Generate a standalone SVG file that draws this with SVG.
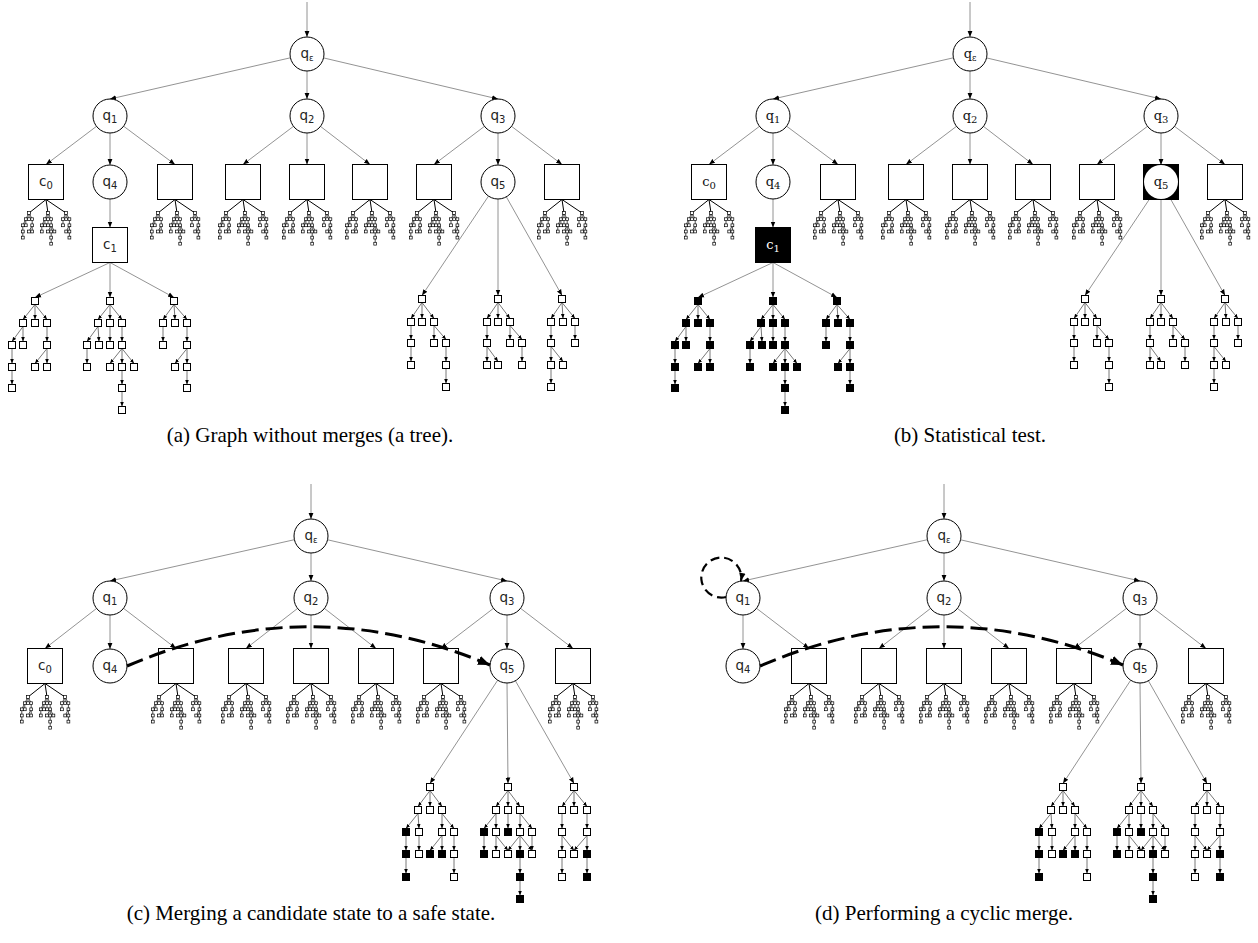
<svg xmlns="http://www.w3.org/2000/svg" width="1258" height="943" viewBox="0 0 1258 943">
<style>
.n{fill:#fff;stroke:#000;stroke-width:1}
.nb{fill:#000;stroke:#000;stroke-width:1}
.e{stroke:#777;stroke-width:0.8;fill:none;marker-end:url(#ah)}
.s{stroke:#555;stroke-width:0.8;fill:none;marker-end:url(#ahs)}
.sq{stroke:#000;stroke-width:1}
.w{fill:#fff}.b{fill:#000}
.lb{font-family:"DejaVu Sans",sans-serif;font-size:13.5px;fill:#222;text-anchor:middle}
.ls{font-family:"DejaVu Serif",serif;font-size:13px;fill:#111;text-anchor:middle}
.sd{font-size:10px}.se{font-size:8.5px}
.cap{font-family:"Liberation Serif",serif;font-size:21px;fill:#000;text-anchor:middle}
.mg{stroke:#000;stroke-width:3;fill:none;stroke-dasharray:17 7;marker-end:url(#ahb)}
.lp{stroke:#000;stroke-width:2.2;fill:none;stroke-dasharray:9 5;marker-end:url(#ahl)}
</style>
<defs>
<marker id="ah" viewBox="0 0 10 10" refX="10" refY="5" markerWidth="6" markerHeight="6" markerUnits="userSpaceOnUse" orient="auto"><path d="M0,1L10,5L0,9z" fill="#000"/></marker>
<marker id="ahs" viewBox="0 0 10 10" refX="10" refY="5" markerWidth="4.5" markerHeight="4.5" markerUnits="userSpaceOnUse" orient="auto"><path d="M0,1L10,5L0,9z" fill="#000"/></marker>
<marker id="ahb" viewBox="0 0 10 10" refX="10" refY="5" markerWidth="12" markerHeight="12" markerUnits="userSpaceOnUse" orient="auto"><path d="M0,1L10,5L0,9z" fill="#000"/></marker>
<marker id="ahl" viewBox="0 0 10 10" refX="10" refY="5" markerWidth="8" markerHeight="8" markerUnits="userSpaceOnUse" orient="auto"><path d="M0,1L10,5L0,9z" fill="#000"/></marker>
<g id="mini">
<path d="M0,0.5L-17,14M0,0.5L2,14M0,0.5L20,14" stroke="#000" stroke-width="1" fill="none"/>
<path d="M-17,14L-20.2,20.2M-17,14L-17,20.2M-17,14L-13.8,20.2M-20.2,20.2L-23.2,26.3M-20.2,20.2L-20.2,26.3M-13.8,20.2L-13.8,26.3M-23.2,26.3L-23.2,38.6M-13.8,26.3L-17,32.5M-13.8,26.3L-13.8,32.5M2,14L-1.2,20.2M2,14L2,20.2M2,14L5.2,20.2M-1.2,20.2L-4.2,26.3M-1.2,20.2L-1,26.3M2,20.2L2,26.3M5.2,20.2L5.2,44.7M-4.2,26.3L-4.2,32.5M5.2,26.3L2,32.5M5.2,26.3L8.4,32.5M20,14L17,20.2M20,14L20.2,20.2M20,14L23.4,20.2M17,20.2L17,26.3M23.4,20.2L23.4,38.6M23.4,26.3L20.2,32.5" stroke="#000" stroke-width="0.7" fill="none"/>
<g fill="#fff" stroke="#000" stroke-width="0.7">
<rect x="-18.4" y="12.6" width="2.8" height="2.8"/><rect x="-21.6" y="18.8" width="2.8" height="2.8"/><rect x="-18.4" y="18.8" width="2.8" height="2.8"/><rect x="-15.2" y="18.8" width="2.8" height="2.8"/><rect x="-24.6" y="24.9" width="2.8" height="2.8"/><rect x="-21.6" y="24.9" width="2.8" height="2.8"/><rect x="-15.2" y="24.9" width="2.8" height="2.8"/><rect x="-24.6" y="31.1" width="2.8" height="2.8"/><rect x="-18.4" y="31.1" width="2.8" height="2.8"/><rect x="-15.2" y="31.1" width="2.8" height="2.8"/><rect x="-24.6" y="37.2" width="2.8" height="2.8"/>
<rect x="0.6" y="12.6" width="2.8" height="2.8"/><rect x="-2.6" y="18.8" width="2.8" height="2.8"/><rect x="0.6" y="18.8" width="2.8" height="2.8"/><rect x="3.8" y="18.8" width="2.8" height="2.8"/><rect x="-5.6" y="24.9" width="2.8" height="2.8"/><rect x="-2.4" y="24.9" width="2.8" height="2.8"/><rect x="0.6" y="24.9" width="2.8" height="2.8"/><rect x="3.8" y="24.9" width="2.8" height="2.8"/><rect x="-5.6" y="31.1" width="2.8" height="2.8"/><rect x="0.6" y="31.1" width="2.8" height="2.8"/><rect x="3.8" y="31.1" width="2.8" height="2.8"/><rect x="7" y="31.1" width="2.8" height="2.8"/><rect x="3.8" y="37.2" width="2.8" height="2.8"/><rect x="3.8" y="43.3" width="2.8" height="2.8"/>
<rect x="18.6" y="12.6" width="2.8" height="2.8"/><rect x="15.6" y="18.8" width="2.8" height="2.8"/><rect x="18.8" y="18.8" width="2.8" height="2.8"/><rect x="22" y="18.8" width="2.8" height="2.8"/><rect x="15.6" y="24.9" width="2.8" height="2.8"/><rect x="22" y="24.9" width="2.8" height="2.8"/><rect x="18.8" y="31.1" width="2.8" height="2.8"/><rect x="22" y="31.1" width="2.8" height="2.8"/><rect x="22" y="37.2" width="2.8" height="2.8"/>
</g>
</g>
<g id="c1tree">
<line class="e" x1="110" y1="262.5" x2="35" y2="297.5"/><line class="e" x1="110" y1="262.5" x2="110" y2="297.5"/><line class="e" x1="110" y1="262.5" x2="174" y2="297.5"/>
<line class="s" x1="35" y1="304.5" x2="23" y2="319.5"/><line class="s" x1="35" y1="304.5" x2="35" y2="319.5"/><line class="s" x1="35" y1="304.5" x2="47" y2="319.5"/>
<line class="s" x1="23" y1="326.5" x2="12" y2="341.5"/><line class="s" x1="23" y1="326.5" x2="23" y2="341.5"/><line class="s" x1="47" y1="326.5" x2="47" y2="341.5"/>
<line class="s" x1="12" y1="348.5" x2="12" y2="363.5"/><line class="s" x1="47" y1="348.5" x2="35" y2="363.5"/><line class="s" x1="47" y1="348.5" x2="47" y2="363.5"/><line class="s" x1="12" y1="370.5" x2="12" y2="384.5"/>
<line class="s" x1="110" y1="304.5" x2="98" y2="319.5"/><line class="s" x1="110" y1="304.5" x2="110" y2="319.5"/><line class="s" x1="110" y1="304.5" x2="122" y2="319.5"/>
<line class="s" x1="98" y1="326.5" x2="87" y2="341.5"/><line class="s" x1="98" y1="326.5" x2="99" y2="341.5"/><line class="s" x1="110" y1="326.5" x2="110" y2="341.5"/><line class="s" x1="122" y1="326.5" x2="122" y2="341.5"/>
<line class="s" x1="87" y1="348.5" x2="87" y2="363.5"/><line class="s" x1="122" y1="348.5" x2="110" y2="363.5"/><line class="s" x1="122" y1="348.5" x2="122" y2="363.5"/><line class="s" x1="122" y1="348.5" x2="134" y2="363.5"/>
<line class="s" x1="122" y1="370.5" x2="122" y2="384.5"/><line class="s" x1="122" y1="391.5" x2="122" y2="406.5"/>
<line class="s" x1="174" y1="304.5" x2="163" y2="319.5"/><line class="s" x1="174" y1="304.5" x2="175" y2="319.5"/><line class="s" x1="174" y1="304.5" x2="187" y2="319.5"/>
<line class="s" x1="163" y1="326.5" x2="163" y2="341.5"/><line class="s" x1="187" y1="326.5" x2="187" y2="341.5"/><line class="s" x1="187" y1="348.5" x2="175" y2="363.5"/><line class="s" x1="187" y1="348.5" x2="187" y2="363.5"/><line class="s" x1="187" y1="370.5" x2="187" y2="384.5"/>
<g class="sq">
<rect x="31.5" y="297.5" width="7" height="7"/><rect x="19.5" y="319.5" width="7" height="7"/><rect x="31.5" y="319.5" width="7" height="7"/><rect x="43.5" y="319.5" width="7" height="7"/><rect x="8.5" y="341.5" width="7" height="7"/><rect x="19.5" y="341.5" width="7" height="7"/><rect x="43.5" y="341.5" width="7" height="7"/><rect x="8.5" y="363.5" width="7" height="7"/><rect x="31.5" y="363.5" width="7" height="7"/><rect x="43.5" y="363.5" width="7" height="7"/><rect x="8.5" y="384.5" width="7" height="7"/>
<rect x="106.5" y="297.5" width="7" height="7"/><rect x="94.5" y="319.5" width="7" height="7"/><rect x="106.5" y="319.5" width="7" height="7"/><rect x="118.5" y="319.5" width="7" height="7"/><rect x="83.5" y="341.5" width="7" height="7"/><rect x="95.5" y="341.5" width="7" height="7"/><rect x="106.5" y="341.5" width="7" height="7"/><rect x="118.5" y="341.5" width="7" height="7"/><rect x="83.5" y="363.5" width="7" height="7"/><rect x="106.5" y="363.5" width="7" height="7"/><rect x="118.5" y="363.5" width="7" height="7"/><rect x="130.5" y="363.5" width="7" height="7"/><rect x="118.5" y="384.5" width="7" height="7"/><rect x="118.5" y="406.5" width="7" height="7"/>
<rect x="170.5" y="297.5" width="7" height="7"/><rect x="159.5" y="319.5" width="7" height="7"/><rect x="171.5" y="319.5" width="7" height="7"/><rect x="183.5" y="319.5" width="7" height="7"/><rect x="159.5" y="341.5" width="7" height="7"/><rect x="183.5" y="341.5" width="7" height="7"/><rect x="171.5" y="363.5" width="7" height="7"/><rect x="183.5" y="363.5" width="7" height="7"/><rect x="183.5" y="384.5" width="7" height="7"/>
</g>
</g>
<g id="q5tree">
<line class="e" x1="488.5" y1="196.1" x2="422" y2="295.5"/><line class="e" x1="498" y1="199" x2="498" y2="295.5"/><line class="e" x1="506.3" y1="196.8" x2="562" y2="295.5"/>
<line class="s" x1="422" y1="302.5" x2="411" y2="318.5"/><line class="s" x1="422" y1="302.5" x2="422" y2="318.5"/><line class="s" x1="422" y1="302.5" x2="434" y2="318.5"/>
<line class="s" x1="411" y1="325.5" x2="411" y2="339.5"/><line class="s" x1="434" y1="325.5" x2="434" y2="339.5"/><line class="s" x1="434" y1="325.5" x2="446" y2="339.5"/>
<line class="s" x1="411" y1="346.5" x2="411" y2="361.5"/><line class="s" x1="446" y1="346.5" x2="446" y2="361.5"/><line class="s" x1="446" y1="368.5" x2="446" y2="383.5"/>
<line class="s" x1="498" y1="302.5" x2="487" y2="318.5"/><line class="s" x1="498" y1="302.5" x2="498" y2="318.5"/><line class="s" x1="498" y1="302.5" x2="510" y2="318.5"/>
<line class="s" x1="487" y1="325.5" x2="487" y2="339.5"/><line class="s" x1="510" y1="325.5" x2="510" y2="339.5"/><line class="s" x1="510" y1="325.5" x2="522" y2="339.5"/>
<line class="s" x1="487" y1="346.5" x2="487" y2="361.5"/><line class="s" x1="487" y1="346.5" x2="498" y2="361.5"/><line class="s" x1="522" y1="346.5" x2="522" y2="361.5"/>
<line class="s" x1="562" y1="302.5" x2="551" y2="318.5"/><line class="s" x1="562" y1="302.5" x2="563" y2="318.5"/><line class="s" x1="562" y1="302.5" x2="575" y2="318.5"/>
<line class="s" x1="551" y1="325.5" x2="551" y2="339.5"/><line class="s" x1="575" y1="325.5" x2="575" y2="339.5"/><line class="s" x1="551" y1="346.5" x2="551" y2="361.5"/><line class="s" x1="551" y1="346.5" x2="563" y2="361.5"/><line class="s" x1="551" y1="368.5" x2="551" y2="383.5"/>
<g class="sq w">
<rect x="418.5" y="295.5" width="7" height="7"/><rect x="407.5" y="318.5" width="7" height="7"/><rect x="418.5" y="318.5" width="7" height="7"/><rect x="430.5" y="318.5" width="7" height="7"/><rect x="407.5" y="339.5" width="7" height="7"/><rect x="430.5" y="339.5" width="7" height="7"/><rect x="442.5" y="339.5" width="7" height="7"/><rect x="407.5" y="361.5" width="7" height="7"/><rect x="442.5" y="361.5" width="7" height="7"/><rect x="442.5" y="383.5" width="7" height="7"/>
<rect x="494.5" y="295.5" width="7" height="7"/><rect x="483.5" y="318.5" width="7" height="7"/><rect x="494.5" y="318.5" width="7" height="7"/><rect x="506.5" y="318.5" width="7" height="7"/><rect x="483.5" y="339.5" width="7" height="7"/><rect x="506.5" y="339.5" width="7" height="7"/><rect x="518.5" y="339.5" width="7" height="7"/><rect x="483.5" y="361.5" width="7" height="7"/><rect x="494.5" y="361.5" width="7" height="7"/><rect x="518.5" y="361.5" width="7" height="7"/>
<rect x="558.5" y="295.5" width="7" height="7"/><rect x="547.5" y="318.5" width="7" height="7"/><rect x="559.5" y="318.5" width="7" height="7"/><rect x="571.5" y="318.5" width="7" height="7"/><rect x="547.5" y="339.5" width="7" height="7"/><rect x="571.5" y="339.5" width="7" height="7"/><rect x="547.5" y="361.5" width="7" height="7"/><rect x="559.5" y="361.5" width="7" height="7"/><rect x="547.5" y="383.5" width="7" height="7"/>
</g>
</g>
<g id="mtree">
<line class="e" x1="497.7" y1="680.2" x2="430" y2="783.5"/><line class="e" x1="507" y1="683" x2="508" y2="783.5"/><line class="e" x1="515.4" y1="680.8" x2="574" y2="783.5"/>
<line class="s" x1="430" y1="790.5" x2="418" y2="806.5"/><line class="s" x1="430" y1="790.5" x2="430" y2="806.5"/><line class="s" x1="430" y1="790.5" x2="442" y2="806.5"/>
<line class="s" x1="418" y1="813.5" x2="406" y2="828.5"/><line class="s" x1="418" y1="813.5" x2="419" y2="828.5"/><line class="s" x1="442" y1="813.5" x2="442" y2="828.5"/><line class="s" x1="442" y1="813.5" x2="454" y2="828.5"/>
<line class="s" x1="406" y1="835.5" x2="406" y2="850.5"/><line class="s" x1="419" y1="835.5" x2="419" y2="850.5"/><line class="s" x1="442" y1="835.5" x2="430" y2="850.5"/><line class="s" x1="442" y1="835.5" x2="442" y2="850.5"/><line class="s" x1="454" y1="835.5" x2="454" y2="850.5"/>
<line class="s" x1="406" y1="857.5" x2="406" y2="873.5"/><line class="s" x1="454" y1="857.5" x2="454" y2="873.5"/>
<line class="s" x1="508" y1="790.5" x2="496" y2="806.5"/><line class="s" x1="508" y1="790.5" x2="508" y2="806.5"/><line class="s" x1="508" y1="790.5" x2="520" y2="806.5"/>
<line class="s" x1="496" y1="813.5" x2="484" y2="828.5"/><line class="s" x1="496" y1="813.5" x2="496" y2="828.5"/><line class="s" x1="508" y1="813.5" x2="508" y2="828.5"/><line class="s" x1="520" y1="813.5" x2="520" y2="828.5"/><line class="s" x1="520" y1="813.5" x2="532" y2="828.5"/>
<line class="s" x1="484" y1="835.5" x2="484" y2="850.5"/><line class="s" x1="496" y1="835.5" x2="496" y2="850.5"/><line class="s" x1="496" y1="835.5" x2="508" y2="850.5"/><line class="s" x1="520" y1="835.5" x2="508" y2="850.5"/><line class="s" x1="520" y1="835.5" x2="520" y2="850.5"/><line class="s" x1="520" y1="835.5" x2="532" y2="850.5"/><line class="s" x1="532" y1="835.5" x2="532" y2="850.5"/>
<line class="s" x1="520" y1="857.5" x2="520" y2="873.5"/><line class="s" x1="520" y1="880.5" x2="520" y2="895.5"/>
<line class="s" x1="574" y1="790.5" x2="562" y2="806.5"/><line class="s" x1="574" y1="790.5" x2="574" y2="806.5"/><line class="s" x1="574" y1="790.5" x2="587" y2="806.5"/>
<line class="s" x1="562" y1="813.5" x2="562" y2="828.5"/><line class="s" x1="587" y1="813.5" x2="587" y2="828.5"/>
<line class="s" x1="562" y1="835.5" x2="562" y2="850.5"/><line class="s" x1="562" y1="835.5" x2="574" y2="850.5"/><line class="s" x1="587" y1="835.5" x2="574" y2="850.5"/><line class="s" x1="587" y1="835.5" x2="587" y2="850.5"/>
<line class="s" x1="562" y1="857.5" x2="562" y2="873.5"/><line class="s" x1="587" y1="857.5" x2="587" y2="873.5"/>
<g class="sq">
<rect class="w" x="426.5" y="783.5" width="7" height="7"/><rect class="w" x="414.5" y="806.5" width="7" height="7"/><rect class="w" x="426.5" y="806.5" width="7" height="7"/><rect class="w" x="438.5" y="806.5" width="7" height="7"/>
<rect class="b" x="402.5" y="828.5" width="7" height="7"/><rect class="w" x="415.5" y="828.5" width="7" height="7"/><rect class="w" x="438.5" y="828.5" width="7" height="7"/><rect class="w" x="450.5" y="828.5" width="7" height="7"/>
<rect class="b" x="402.5" y="850.5" width="7" height="7"/><rect class="w" x="415.5" y="850.5" width="7" height="7"/><rect class="b" x="426.5" y="850.5" width="7" height="7"/><rect class="b" x="438.5" y="850.5" width="7" height="7"/><rect class="w" x="450.5" y="850.5" width="7" height="7"/>
<rect class="b" x="402.5" y="873.5" width="7" height="7"/><rect class="w" x="450.5" y="873.5" width="7" height="7"/>
<rect class="w" x="504.5" y="783.5" width="7" height="7"/><rect class="w" x="492.5" y="806.5" width="7" height="7"/><rect class="w" x="504.5" y="806.5" width="7" height="7"/><rect class="w" x="516.5" y="806.5" width="7" height="7"/>
<rect class="b" x="480.5" y="828.5" width="7" height="7"/><rect class="w" x="492.5" y="828.5" width="7" height="7"/><rect class="b" x="504.5" y="828.5" width="7" height="7"/><rect class="w" x="516.5" y="828.5" width="7" height="7"/><rect class="w" x="528.5" y="828.5" width="7" height="7"/>
<rect class="b" x="480.5" y="850.5" width="7" height="7"/><rect class="w" x="492.5" y="850.5" width="7" height="7"/><rect class="w" x="504.5" y="850.5" width="7" height="7"/><rect class="b" x="516.5" y="850.5" width="7" height="7"/><rect class="w" x="528.5" y="850.5" width="7" height="7"/>
<rect class="b" x="516.5" y="873.5" width="7" height="7"/><rect class="b" x="516.5" y="895.5" width="7" height="7"/>
<rect class="w" x="570.5" y="783.5" width="7" height="7"/><rect class="w" x="558.5" y="806.5" width="7" height="7"/><rect class="w" x="570.5" y="806.5" width="7" height="7"/><rect class="w" x="583.5" y="806.5" width="7" height="7"/>
<rect class="w" x="558.5" y="828.5" width="7" height="7"/><rect class="w" x="583.5" y="828.5" width="7" height="7"/>
<rect class="w" x="558.5" y="850.5" width="7" height="7"/><rect class="w" x="570.5" y="850.5" width="7" height="7"/><rect class="b" x="583.5" y="850.5" width="7" height="7"/>
<rect class="w" x="558.5" y="873.5" width="7" height="7"/><rect class="b" x="583.5" y="873.5" width="7" height="7"/>
</g>
</g>
<g id="conn-a-base">
<line class="e" x1="307" y1="2" x2="307" y2="37"/>
<line class="e" x1="290.4" y1="57.8" x2="110" y2="99"/>
<line class="e" x1="307" y1="71" x2="307" y2="99"/>
<line class="e" x1="323.5" y1="57.9" x2="498" y2="99"/>
<line class="e" x1="96.5" y1="126.3" x2="46" y2="164.5"/>
<line class="e" x1="110" y1="133" x2="110" y2="165"/>
<line class="e" x1="123.6" y1="126.2" x2="175" y2="164.5"/>
<line class="e" x1="293.5" y1="126.3" x2="243" y2="164.5"/>
<line class="e" x1="307" y1="133" x2="307" y2="164.5"/>
<line class="e" x1="320.5" y1="126.4" x2="370" y2="164.5"/>
<line class="e" x1="484.5" y1="126.3" x2="434" y2="164.5"/>
<line class="e" x1="498" y1="133" x2="498" y2="165"/>
<line class="e" x1="511.5" y1="126.3" x2="562" y2="164.5"/>
<line class="e" x1="110" y1="199" x2="110" y2="227.5"/>
</g>
</defs>

<g id="connectors">
<use href="#conn-a-base"/>
<use href="#conn-a-base" transform="translate(663,0)"/>
<g id="conn-c">
<line class="e" x1="311" y1="484" x2="311" y2="519"/>
<line class="e" x1="294.4" y1="539.7" x2="110" y2="581"/>
<line class="e" x1="311" y1="553" x2="311" y2="581"/>
<line class="e" x1="327.6" y1="539.8" x2="507" y2="581"/>
<line class="e" x1="96.6" y1="608.4" x2="45" y2="648.5"/>
<line class="e" x1="110" y1="615" x2="110" y2="649"/>
<line class="e" x1="123.5" y1="608.3" x2="176" y2="648.5"/>
<line class="e" x1="297.6" y1="608.4" x2="246" y2="648.5"/>
<line class="e" x1="311" y1="615" x2="311" y2="648.5"/>
<line class="e" x1="324.4" y1="608.4" x2="376" y2="648.5"/>
<line class="e" x1="493.5" y1="608.3" x2="441" y2="648.5"/>
<line class="e" x1="507" y1="615" x2="507" y2="649"/>
<line class="e" x1="520.5" y1="608.3" x2="573" y2="648.5"/>
</g>
<g id="conn-d">
<line class="e" x1="944" y1="484" x2="944" y2="519"/>
<line class="e" x1="927.4" y1="539.7" x2="743" y2="581"/>
<line class="e" x1="944" y1="553" x2="944" y2="581"/>
<line class="e" x1="960.6" y1="539.8" x2="1140" y2="581"/>
<line class="e" x1="743" y1="615" x2="743" y2="649"/>
<line class="e" x1="756.5" y1="608.3" x2="809" y2="648.5"/>
<line class="e" x1="930.6" y1="608.4" x2="879" y2="648.5"/>
<line class="e" x1="944" y1="615" x2="944" y2="648.5"/>
<line class="e" x1="957.4" y1="608.4" x2="1009" y2="648.5"/>
<line class="e" x1="1126.5" y1="608.3" x2="1074" y2="648.5"/>
<line class="e" x1="1140" y1="615" x2="1140" y2="649"/>
<line class="e" x1="1153.5" y1="608.3" x2="1206" y2="648.5"/>
</g>
</g>

<g id="subtrees">
<use href="#c1tree" fill="#fff"/>
<use href="#c1tree" fill="#000" transform="translate(663,0)"/>
<use href="#q5tree"/>
<use href="#q5tree" transform="translate(663,0)"/>
<use href="#mtree"/>
<use href="#mtree" transform="translate(633,0)"/>
<use href="#mini" x="46" y="199"/><use href="#mini" x="175" y="199"/><use href="#mini" x="243" y="199"/><use href="#mini" x="307" y="199"/><use href="#mini" x="370" y="199"/><use href="#mini" x="434" y="199"/><use href="#mini" x="562" y="199"/>
<use href="#mini" x="709" y="199"/><use href="#mini" x="838" y="199"/><use href="#mini" x="906" y="199"/><use href="#mini" x="970" y="199"/><use href="#mini" x="1033" y="199"/><use href="#mini" x="1097" y="199"/><use href="#mini" x="1225" y="199"/>
<use href="#mini" x="45" y="683"/><use href="#mini" x="176" y="683"/><use href="#mini" x="246" y="683"/><use href="#mini" x="311" y="683"/><use href="#mini" x="376" y="683"/><use href="#mini" x="441" y="683"/><use href="#mini" x="573" y="683"/>
<use href="#mini" x="809" y="683"/><use href="#mini" x="879" y="683"/><use href="#mini" x="944" y="683"/><use href="#mini" x="1009" y="683"/><use href="#mini" x="1074" y="683"/><use href="#mini" x="1206" y="683"/>
</g>

<g id="panel-a">
<g id="a-qe"><circle class="n" cx="307" cy="54" r="17"/><text class="lb" x="307" y="57.5">q<tspan class="se" dy="3">ε</tspan></text></g>
<g id="a-q1"><circle class="n" cx="110" cy="116" r="17"/><text class="lb" x="110" y="119.5">q<tspan class="sd" dy="3">1</tspan></text></g>
<g id="a-q2"><circle class="n" cx="307" cy="116" r="17"/><text class="lb" x="307" y="119.5">q<tspan class="sd" dy="3">2</tspan></text></g>
<g id="a-q3"><circle class="n" cx="498" cy="116" r="17"/><text class="lb" x="498" y="119.5">q<tspan class="sd" dy="3">3</tspan></text></g>
<g id="a-c0"><rect class="n" x="28.5" y="164.5" width="35" height="35"/><text class="lb" x="46" y="185.5">c<tspan class="sd" dy="3">0</tspan></text></g>
<g id="a-q4"><circle class="n" cx="110" cy="182" r="17"/><text class="lb" x="110" y="185.5">q<tspan class="sd" dy="3">4</tspan></text></g>
<g id="a-s1"><rect class="n" x="157.5" y="164.5" width="35" height="35"/></g>
<g id="a-s2"><rect class="n" x="225.5" y="164.5" width="35" height="35"/></g>
<g id="a-s3"><rect class="n" x="289.5" y="164.5" width="35" height="35"/></g>
<g id="a-s4"><rect class="n" x="352.5" y="164.5" width="35" height="35"/></g>
<g id="a-s5"><rect class="n" x="416.5" y="164.5" width="35" height="35"/></g>
<g id="a-q5"><circle class="n" cx="498" cy="182" r="17"/><text class="lb" x="498" y="185.5">q<tspan class="sd" dy="3">5</tspan></text></g>
<g id="a-s6"><rect class="n" x="544.5" y="164.5" width="35" height="35"/></g>
<g id="a-c1"><rect class="n" x="92.5" y="227.5" width="35" height="35"/><text class="lb" x="110" y="248.5">c<tspan class="sd" dy="3">1</tspan></text></g>
</g>

<g id="panel-b" transform="translate(663,0)">
<g id="b-qe"><circle class="n" cx="307" cy="54" r="17"/><text class="ls" x="307" y="57.5">q<tspan class="se" dy="3">ε</tspan></text></g>
<g id="b-q1"><circle class="n" cx="110" cy="116" r="17"/><text class="ls" x="110" y="119.5">q<tspan class="sd" dy="3">1</tspan></text></g>
<g id="b-q2"><circle class="n" cx="307" cy="116" r="17"/><text class="ls" x="307" y="119.5">q<tspan class="sd" dy="3">2</tspan></text></g>
<g id="b-q3"><circle class="n" cx="498" cy="116" r="17"/><text class="ls" x="498" y="119.5">q<tspan class="sd" dy="3">3</tspan></text></g>
<g id="b-c0"><rect class="n" x="28.5" y="164.5" width="35" height="35"/><text class="ls" x="46" y="185.5">c<tspan class="sd" dy="3">0</tspan></text></g>
<g id="b-q4"><circle class="n" cx="110" cy="182" r="17"/><text class="ls" x="110" y="185.5">q<tspan class="sd" dy="3">4</tspan></text></g>
<g id="b-s1"><rect class="n" x="157.5" y="164.5" width="35" height="35"/></g>
<g id="b-s2"><rect class="n" x="225.5" y="164.5" width="35" height="35"/></g>
<g id="b-s3"><rect class="n" x="289.5" y="164.5" width="35" height="35"/></g>
<g id="b-s4"><rect class="n" x="352.5" y="164.5" width="35" height="35"/></g>
<g id="b-s5"><rect class="n" x="416.5" y="164.5" width="35" height="35"/></g>
<g id="b-q5"><rect class="nb" x="480.5" y="164.5" width="35" height="35"/><circle fill="#fff" cx="498" cy="182" r="17"/><text class="ls" x="498" y="185.5">q<tspan class="sd" dy="3">5</tspan></text></g>
<g id="b-s6"><rect class="n" x="544.5" y="164.5" width="35" height="35"/></g>
<g id="b-c1"><rect class="nb" x="92.5" y="227.5" width="35" height="35"/><text class="ls" x="110" y="248.5" style="fill:#fff">c<tspan class="sd" dy="3">1</tspan></text></g>
</g>

<g id="panel-c">
<g id="c-qe"><circle class="n" cx="311" cy="536" r="17"/><text class="lb" x="311" y="539.5">q<tspan class="se" dy="3">ε</tspan></text></g>
<g id="c-q1"><circle class="n" cx="110" cy="598" r="17"/><text class="lb" x="110" y="601.5">q<tspan class="sd" dy="3">1</tspan></text></g>
<g id="c-q2"><circle class="n" cx="311" cy="598" r="17"/><text class="lb" x="311" y="601.5">q<tspan class="sd" dy="3">2</tspan></text></g>
<g id="c-q3"><circle class="n" cx="507" cy="598" r="17"/><text class="lb" x="507" y="601.5">q<tspan class="sd" dy="3">3</tspan></text></g>
<g id="c-c0"><rect class="n" x="27.5" y="648.5" width="35" height="35"/><text class="lb" x="45" y="669.5">c<tspan class="sd" dy="3">0</tspan></text></g>
<g id="c-q4"><circle class="n" cx="110" cy="666" r="17"/><text class="lb" x="110" y="669.5">q<tspan class="sd" dy="3">4</tspan></text></g>
<g id="c-s1"><rect class="n" x="158.5" y="648.5" width="35" height="35"/></g>
<g id="c-s2"><rect class="n" x="228.5" y="648.5" width="35" height="35"/></g>
<g id="c-s3"><rect class="n" x="293.5" y="648.5" width="35" height="35"/></g>
<g id="c-s4"><rect class="n" x="358.5" y="648.5" width="35" height="35"/></g>
<g id="c-s5"><rect class="n" x="423.5" y="648.5" width="35" height="35"/></g>
<g id="c-q5"><circle class="n" cx="507" cy="666" r="17"/><text class="lb" x="507" y="669.5">q<tspan class="sd" dy="3">5</tspan></text></g>
<g id="c-s6"><rect class="n" x="555.5" y="648.5" width="35" height="35"/></g>
</g>

<g id="panel-d">
<g id="d-qe"><circle class="n" cx="944" cy="536" r="17"/><text class="lb" x="944" y="539.5">q<tspan class="se" dy="3">ε</tspan></text></g>
<g id="d-q1"><circle class="n" cx="743" cy="598" r="17"/><text class="lb" x="743" y="601.5">q<tspan class="sd" dy="3">1</tspan></text></g>
<g id="d-q2"><circle class="n" cx="944" cy="598" r="17"/><text class="lb" x="944" y="601.5">q<tspan class="sd" dy="3">2</tspan></text></g>
<g id="d-q3"><circle class="n" cx="1140" cy="598" r="17"/><text class="lb" x="1140" y="601.5">q<tspan class="sd" dy="3">3</tspan></text></g>
<g id="d-q4"><circle class="n" cx="743" cy="666" r="17"/><text class="lb" x="743" y="669.5">q<tspan class="sd" dy="3">4</tspan></text></g>
<g id="d-s1"><rect class="n" x="791.5" y="648.5" width="35" height="35"/></g>
<g id="d-s2"><rect class="n" x="861.5" y="648.5" width="35" height="35"/></g>
<g id="d-s3"><rect class="n" x="926.5" y="648.5" width="35" height="35"/></g>
<g id="d-s4"><rect class="n" x="991.5" y="648.5" width="35" height="35"/></g>
<g id="d-s5"><rect class="n" x="1056.5" y="648.5" width="35" height="35"/></g>
<g id="d-q5"><circle class="n" cx="1140" cy="666" r="17"/><text class="lb" x="1140" y="669.5">q<tspan class="sd" dy="3">5</tspan></text></g>
<g id="d-s6"><rect class="n" x="1188.5" y="648.5" width="35" height="35"/></g>
</g>

<g id="merge-connectors">
<path class="mg" d="M127,666 Q309,588 490,665"/>
<path class="mg" d="M760,666 Q942,588 1123,665"/>
<path class="lp" d="M726,597 A20,20 0 1 1 741,581"/>
</g>

<g id="captions">
<text class="cap" x="310" y="442">(a) Graph without merges (a tree).</text>
<text class="cap" x="970" y="442">(b) Statistical test.</text>
<text class="cap" x="311" y="920">(c) Merging a candidate state to a safe state.</text>
<text class="cap" x="944" y="920">(d) Performing a cyclic merge.</text>
</g>
</svg>
